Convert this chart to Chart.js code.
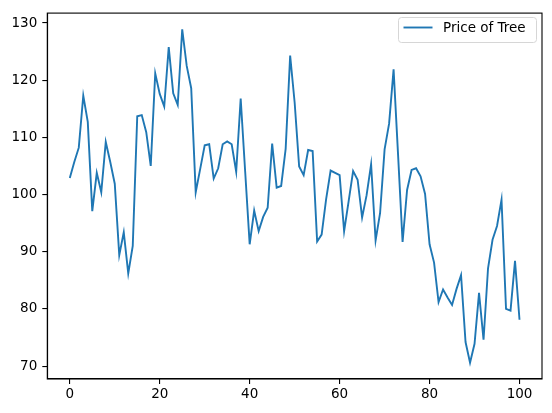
<!DOCTYPE html>
<html>
<head>
<meta charset="utf-8">
<script src="https://cdn.jsdelivr.net/npm/chart.js@4.4.1/dist/chart.umd.min.js"></script>
<style>
  html, body { margin: 0; padding: 0; background: #fff; }
  canvas { display: block; }
</style>
</head>
<body>
<canvas id="chart" width="552" height="413" style="width:552px;height:413px"></canvas>
<script>
const seriesLabel = "Price of Tree";
const prices = [
  102.9, 105.7, 108.2, 117.3, 112.7, 97.1, 103.8, 100.4, 109.2, 105.7,
  101.9, 89.4, 93.4, 86.2, 91.0, 113.7, 113.9, 110.9, 105.0, 121.2,
  117.6, 115.4, 125.8, 117.7, 115.7, 128.9, 122.5, 118.6, 100.4, 104.5,
  108.6, 108.8, 102.8, 104.6, 108.8, 109.3, 108.8, 104.0, 116.8, 104.0,
  91.3, 97.2, 93.6, 96.1, 97.7, 108.9, 101.2, 101.5, 108.0, 124.3,
  116.1, 104.9, 103.4, 107.8, 107.6, 91.8, 93.0, 99.2, 104.2, 103.8,
  103.4, 93.6, 98.8, 104.1, 102.6, 96.0, 99.9, 105.3, 92.0, 96.8,
  107.9, 112.4, 121.9, 106.9, 91.7, 100.8, 104.3, 104.6, 103.2, 100.1,
  91.3, 88.1, 81.2, 83.4, 82.0, 80.7, 83.5, 85.9, 74.2, 70.6,
  73.9, 82.8, 74.6, 87.1, 92.1, 94.5, 99.1, 80.0, 79.7, 88.4,
  78.1
];
const xTicks = [0, 20, 40, 60, 80, 100];
const yTicks = [70, 80, 90, 100, 110, 120, 130];

const lineColor = "#1f77b4";
const fontFamily = "'DejaVu Sans', sans-serif";

// matplotlib-like box around the axes
const framePlugin = {
  id: "frame",
  afterDatasetsDraw(chart) {
    const { ctx, chartArea: a } = chart;
    ctx.save();
    ctx.strokeStyle = "#000";
    ctx.lineWidth = 1.1;
    ctx.strokeRect(a.left, a.top, a.right - a.left, a.bottom - a.top);
    ctx.restore();
  },
};

// legend drawn inside the plot, upper right
const legendPlugin = {
  id: "innerLegend",
  afterDraw(chart) {
    const { ctx } = chart;
    const x = 398.5, y = 17.5, w = 138, h = 25, r = 3;
    ctx.save();
    ctx.beginPath();
    ctx.roundRect(x, y, w, h, r);
    ctx.fillStyle = "rgba(255,255,255,0.8)";
    ctx.fill();
    ctx.strokeStyle = "#d6d6d6";
    ctx.lineWidth = 1;
    ctx.stroke();

    ctx.beginPath();
    ctx.moveTo(403.5, 27.5);
    ctx.lineTo(432.5, 27.5);
    ctx.strokeStyle = lineColor;
    ctx.lineWidth = 1.9;
    ctx.stroke();

    ctx.fillStyle = "#000";
    ctx.font = "13.5px " + fontFamily;
    ctx.textBaseline = "middle";
    ctx.fillText(chart.data.datasets[0].label, 443, 28);
    ctx.restore();
  },
};

const axisStyle = {
  grid: {
    drawOnChartArea: false,
    drawTicks: true,
    tickLength: 5,
    color: "#000",
    lineWidth: 1.1,
  },
  border: { display: true, color: "#000", width: 1.1 },
};

new Chart(document.getElementById("chart").getContext("2d"), {
  type: "line",
  data: {
    datasets: [
      {
        label: seriesLabel,
        data: prices.map((p, i) => ({ x: i, y: p })),
        borderColor: lineColor,
        backgroundColor: lineColor,
        borderWidth: 1.9,
        pointRadius: 0,
        tension: 0,
        fill: false,
      },
    ],
  },
  options: {
    responsive: false,
    animation: false,
    devicePixelRatio: 1,
    layout: { padding: { top: 10.7, right: 10, left: 0, bottom: 0 } },
    plugins: {
      legend: { display: false },
      tooltip: { enabled: false },
    },
    scales: {
      x: {
        type: "linear",
        min: -5,
        max: 105,
        ...axisStyle,
        afterBuildTicks: (s) => { s.ticks = xTicks.map((v) => ({ value: v })); },
        afterFit: (s) => { s.height = 34; },
        ticks: {
          color: "#000",
          font: { family: fontFamily, size: 13.5 },
          padding: 2,
          maxRotation: 0,
          autoSkip: false,
        },
      },
      y: {
        type: "linear",
        min: 67.74,
        max: 131.74,
        ...axisStyle,
        afterBuildTicks: (s) => { s.ticks = yTicks.map((v) => ({ value: v })); },
        afterFit: (s) => { s.width = 47.3; },
        ticks: {
          color: "#000",
          font: { family: fontFamily, size: 13.5 },
          padding: 5,
          autoSkip: false,
        },
      },
    },
  },
  plugins: [framePlugin, legendPlugin],
});
</script>
</body>
</html>
